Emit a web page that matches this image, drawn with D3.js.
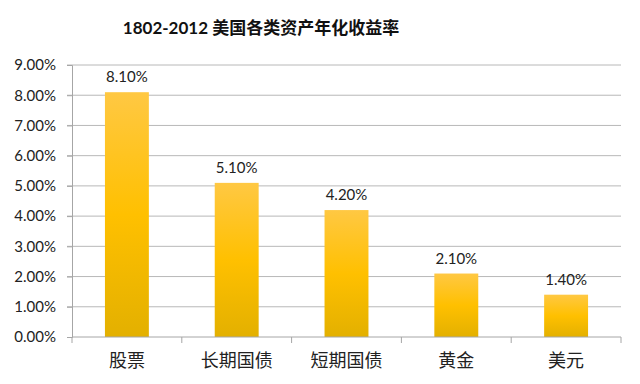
<!DOCTYPE html>
<html>
<head>
<meta charset="utf-8">
<script src="https://cdn.jsdelivr.net/npm/d3@7"></script>
<style>
  body { margin: 0; background: #fff; }
  svg { display: block; }
  .tick text { font-family: Lato, "Noto Sans CJK SC", sans-serif; fill: #222; }
</style>
</head>
<body>
<div class="plot"></div>
<script>
const categories = ["股票", "长期国债", "短期国债", "黄金", "美元"];
const returns = [8.10, 5.10, 4.20, 2.10, 1.40];
const yTicks = [0, 1, 2, 3, 4, 5, 6, 7, 8, 9];
const title = "1802-2012 美国各类资产年化收益率";

const width = 640, height = 384;
const margin = { top: 65, right: 19, bottom: 47, left: 72 };
const innerW = width - margin.left - margin.right;
const innerH = height - margin.top - margin.bottom;

const svg = d3.select(".plot")
    .append("svg")
    .attr("width", width)
    .attr("height", height);

const defs = svg.append("defs");
defs.append("linearGradient")
    .attr("id", "bar-gradient")
    .attr("x1", 0).attr("y1", 0)
    .attr("x2", 0).attr("y2", 1)
    .selectAll("stop")
    .data([
        { offset: "0%", color: "#FFC843" },
        { offset: "50%", color: "#FFC000" },
        { offset: "100%", color: "#E3B000" }
    ])
    .enter().append("stop")
    .attr("offset", d => d.offset)
    .attr("stop-color", d => d.color);

svg.append("text")
    .attr("x", 261)
    .attr("y", 34)
    .attr("text-anchor", "middle")
    .style("font-family", "Lato, 'Noto Sans CJK SC', sans-serif")
    .style("font-weight", "bold")
    .style("font-size", "17px")
    .attr("fill", "#111")
    .text(title);

const g = svg.append("g")
    .attr("transform", `translate(${margin.left}, ${margin.top})`);

const x = d3.scaleBand()
    .domain(categories)
    .range([0, innerW])
    .paddingInner(0.6)
    .paddingOuter(0.3);

const y = d3.scaleLinear()
    .domain([0, 9])
    .range([innerH, 0]);

// gridlines
g.append("g")
    .selectAll("line")
    .data(yTicks.filter(d => d > 0))
    .enter().append("line")
    .attr("x1", -5).attr("x2", innerW)
    .attr("y1", d => y(d)).attr("y2", d => y(d))
    .attr("stroke", "#b8b8b8")
    .attr("stroke-width", 1);

// y axis
const yAxis = g.append("g")
    .call(d3.axisLeft(y).tickValues(yTicks).tickSize(5).tickPadding(11)
        .tickFormat(d => d.toFixed(2) + "%"));
yAxis.selectAll("text").style("font-size", "15px");
yAxis.selectAll("line, path").attr("stroke", "#a6a6a6");

// bars
g.selectAll(".bar")
    .data(returns)
    .enter().append("rect")
    .attr("class", "bar")
    .attr("x", (d, i) => x(categories[i]))
    .attr("y", d => y(d))
    .attr("width", x.bandwidth())
    .attr("height", d => innerH - y(d))
    .attr("fill", "url(#bar-gradient)");

// value labels
g.selectAll(".label")
    .data(returns)
    .enter().append("text")
    .attr("class", "label")
    .attr("x", (d, i) => x(categories[i]) + x.bandwidth() / 2)
    .attr("y", d => y(d) - 10)
    .attr("text-anchor", "middle")
    .style("font-family", "Lato, sans-serif")
    .style("font-size", "15px")
    .attr("fill", "#222")
    .text(d => d.toFixed(2) + "%");

// x axis with ticks between categories
const xAxisG = g.append("g")
    .attr("transform", `translate(0, ${innerH})`);
const step = innerW / categories.length;
xAxisG.append("line")
    .attr("x1", 0).attr("x2", innerW)
    .attr("stroke", "#a6a6a6");
xAxisG.selectAll(".xtick")
    .data(d3.range(categories.length + 1))
    .enter().append("line")
    .attr("x1", d => d * step).attr("x2", d => d * step)
    .attr("y1", 0).attr("y2", 6)
    .attr("stroke", "#a6a6a6");
xAxisG.selectAll(".xlabel")
    .data(categories)
    .enter().append("text")
    .attr("x", d => x(d) + x.bandwidth() / 2)
    .attr("y", 30)
    .attr("text-anchor", "middle")
    .style("font-family", "'Noto Sans CJK SC', sans-serif")
    .style("font-size", "18px")
    .attr("fill", "#222")
    .text(d => d);
</script>
</body>
</html>
